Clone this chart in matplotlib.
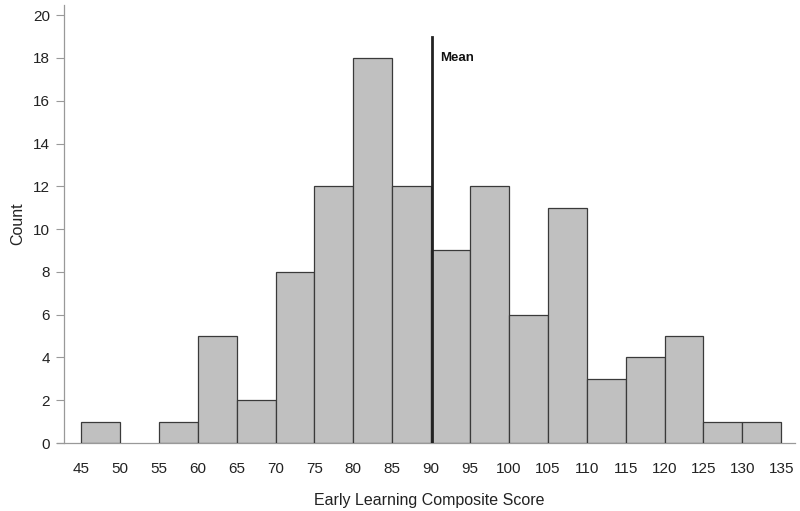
import matplotlib
matplotlib.use("Agg")
import matplotlib.pyplot as plt
import numpy as np

bin_edges = list(range(45, 140, 5))
counts = [1, 0, 1, 5, 2, 8, 12, 18, 12, 9, 12, 6, 11, 3, 4, 5, 1, 1]
mean_value = 90.1
mean_label = "Mean"
y_ticks = list(range(0, 21, 2))
x_ticks = list(range(45, 140, 5))
xlabel = "Early Learning Composite Score"
ylabel = "Count"

plt.rcParams['font.family'] = ['Liberation Sans', 'DejaVu Sans']

fig = plt.figure(figsize=(8, 5.11), dpi=100)
ax = fig.add_axes([0.08, 0.133, 0.914, 0.857])

lefts = [e for e, c in zip(bin_edges[:-1], counts) if c > 0]
heights = [c for c in counts if c > 0]
ax.bar(lefts, heights, width=5, align='edge', color='#c0c0c0',
       edgecolor='#3a3a3a', linewidth=0.9, zorder=2)

ax.plot([mean_value, mean_value], [0, 19.0], color='#222222', linewidth=2, zorder=3)
ax.text(mean_value + 1.0, 18.0, mean_label, fontsize=9.5, fontweight='bold',
        ha='left', va='center', color='#111111')

ax.set_xlim(42.8, 136.8)
ax.set_ylim(0, 20.47)
ax.set_yticks(y_ticks)
ax.set_xticks(x_ticks)
ax.tick_params(axis='x', length=0, pad=14, labelsize=11, colors='#222222')
ax.tick_params(axis='y', length=6, width=0.8, color='#999999', labelsize=11,
               labelcolor='#222222', pad=4)

for s in ['top', 'right']:
    ax.spines[s].set_visible(False)
ax.spines['left'].set_color('#999999')
ax.spines['bottom'].set_visible(False)
ax.spines['left'].set_linewidth(0.9)
ax.plot([41.9, 136.8], [0, 0], color='#999999', linewidth=0.9, clip_on=False, zorder=1)

ax.set_xlabel(xlabel, fontsize=11.5, labelpad=12, color='#222222')
ax.set_ylabel(ylabel, fontsize=11.5, labelpad=6, color='#222222')

fig.savefig("out.png", dpi=100)
